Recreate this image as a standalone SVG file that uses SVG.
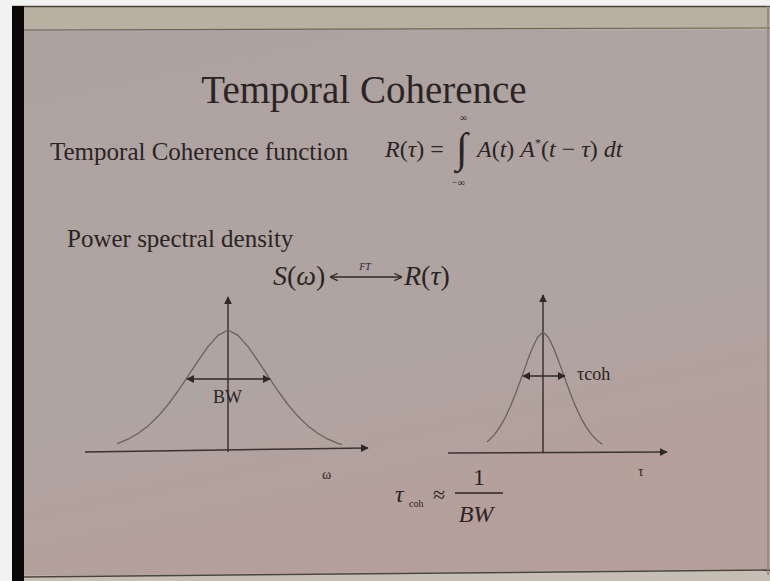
<svg xmlns="http://www.w3.org/2000/svg" width="770" height="581" viewBox="0 0 770 581">
<defs>
<style>
.t{font-family:"Liberation Serif","Times New Roman",serif;fill:#2b2424}
.i{font-style:italic}
.ax{stroke:#3a3232;stroke-width:1.5;fill:none}
.cv{stroke:#6a605e;stroke-width:1.3;fill:none;stroke-linejoin:round}
.dbl{stroke:#2e2828;stroke-width:1.4;fill:none}
</style>
<linearGradient id="bg" x1="0" y1="0" x2="0.3" y2="1">
<stop offset="0" stop-color="#aea3a1"/>
<stop offset="0.7" stop-color="#b0a4a1"/>
<stop offset="1" stop-color="#b59f9a"/>
</linearGradient>
<marker id="ah" viewBox="0 0 10 10" refX="9" refY="5" markerWidth="8" markerHeight="8" markerUnits="userSpaceOnUse" orient="auto-start-reverse">
<path d="M0,0 L10,5 L0,10 Z" fill="#2e2828"/>
</marker>
<marker id="vee" viewBox="0 0 10 10" refX="9.5" refY="5" markerWidth="9" markerHeight="9" markerUnits="userSpaceOnUse" orient="auto-start-reverse">
<path d="M1,1 L9.5,5 L1,9" fill="none" stroke="#2e2828" stroke-width="1.3"/>
</marker>
</defs>
<rect width="770" height="581" fill="#f2f2f2"/>
<rect x="12" y="6" width="758" height="575" fill="#b8b0a0"/>
<rect x="24" y="30" width="746" height="545" fill="url(#bg)"/>
<line x1="12" y1="6.5" x2="770" y2="6.5" stroke="#4a443c" stroke-width="1.5"/>
<line x1="24" y1="30" x2="770" y2="28" stroke="#6e6458" stroke-width="1.2"/>
<polygon points="24,576 770,569 770,581 24,581" fill="#c6beb2"/>
<line x1="24" y1="577" x2="770" y2="570" stroke="#4a4440" stroke-width="1.5"/>
<rect x="12" y="6" width="12" height="575" fill="#0a0808"/>
<line x1="768" y1="6" x2="768" y2="575" stroke="#8a827c" stroke-width="1.5"/>

<g id="title">
<text class="t" x="364" y="103" font-size="39" text-anchor="middle">Temporal Coherence</text>
</g>

<g id="coherence-function">
<text class="t" x="50" y="160" font-size="25">Temporal Coherence function</text>
<text class="t" x="385" y="157" font-size="24"><tspan class="i">R</tspan><tspan>(</tspan><tspan class="i">τ</tspan><tspan>) =</tspan></text>
<text class="t" x="456" y="162" font-size="42">∫</text>
<text class="t" x="460" y="121" font-size="10">∞</text>
<text class="t" x="452" y="186" font-size="10">−∞</text>
<text class="t" x="477" y="157" font-size="24"><tspan class="i">A</tspan><tspan>(</tspan><tspan class="i">t</tspan><tspan>) </tspan><tspan class="i">A</tspan><tspan font-size="12" dy="-10">*</tspan><tspan dy="10">(</tspan><tspan class="i">t</tspan><tspan> − </tspan><tspan class="i">τ</tspan><tspan>) </tspan><tspan class="i">dt</tspan></text>
</g>

<g id="psd">
<text class="t" x="67" y="247" font-size="25">Power spectral density</text>
<text class="t" x="273" y="285" font-size="28"><tspan class="i">S</tspan><tspan>(</tspan><tspan class="i">ω</tspan><tspan>)</tspan></text>
<text class="t" x="404" y="285" font-size="28"><tspan class="i">R</tspan><tspan>(</tspan><tspan class="i">τ</tspan><tspan>)</tspan></text>
<text class="t i" x="365" y="270" font-size="10" text-anchor="middle">FT</text>
</g>

<g id="connectors">
<line x1="330" y1="277" x2="402" y2="277" stroke="#2e2828" stroke-width="1.3" marker-start="url(#vee)" marker-end="url(#vee)"/>
</g>

<g id="spectrum-plot">
<line class="ax" x1="228" y1="452" x2="228" y2="297" marker-end="url(#ah)"/>
<line class="ax" x1="85" y1="452" x2="368" y2="448" marker-end="url(#ah)"/>
<polyline class="cv" points="117,443.6 118,443.4 128,439.2 138,433.5 148,425.9 158,416.3 168,404.6 178,391 188,376.1 198,360.8 208,346.6 218,335.4 228,330 238,335.4 248,346.6 258,360.8 268,376.1 278,391 288,404.6 298,416.3 308,425.9 318,433.5 328,439.2 338,443.4 342,444.7"/>
<line class="dbl" x1="187" y1="379" x2="270" y2="379" marker-start="url(#ah)" marker-end="url(#ah)"/>
<text class="t" x="213" y="403" font-size="18" fill="#3a3232">BW</text>
<text class="t" x="322" y="479" font-size="14">ω</text>
</g>

<g id="coherence-plot">
<line class="ax" x1="543" y1="453" x2="543" y2="295" marker-end="url(#ah)"/>
<line class="ax" x1="448" y1="453" x2="667" y2="452" marker-end="url(#ah)"/>
<polyline class="cv" points="487,441.9 489,440.3 494.4,434.6 499.8,427.1 505.2,417.6 510.6,406 516,392.5 521.4,377.7 526.8,362.6 532.2,348.5 537.6,337.3 543,332 548.4,337.3 553.8,348.5 559.2,362.6 564.6,377.7 570,392.5 575.4,406 580.8,417.6 586.2,427.1 591.6,434.6 597,440.3 602.4,444.5"/>
<line class="dbl" x1="523" y1="376" x2="565" y2="376" marker-start="url(#ah)" marker-end="url(#ah)"/>
<text class="t" x="577" y="380" font-size="18">τcoh</text>
<text class="t" x="638" y="476" font-size="14">τ</text>
</g>

<g id="relation">
<text class="t i" x="395" y="502" font-size="24">τ</text>
<text class="t" x="409" y="507" font-size="10">coh</text>
<text class="t" x="433" y="502" font-size="22">≈</text>
<text class="t" x="479" y="485" font-size="24" text-anchor="middle">1</text>
<line x1="455" y1="493" x2="503" y2="493" stroke="#2b2424" stroke-width="1.3"/>
<text class="t i" x="476" y="522" font-size="24" text-anchor="middle">BW</text>
</g>
</svg>
